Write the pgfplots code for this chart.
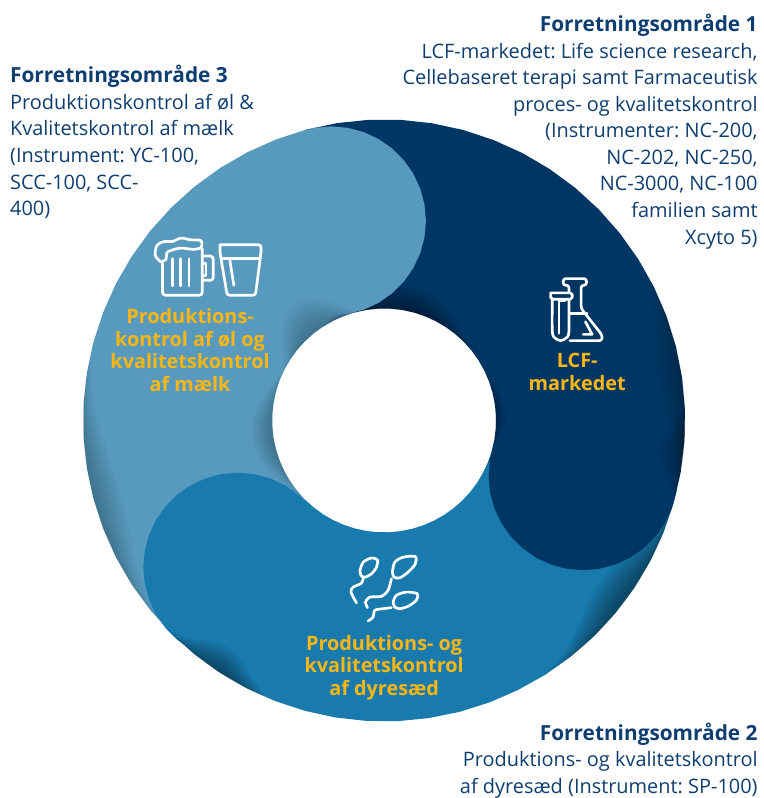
\documentclass[border=0pt]{standalone}
\usepackage{pgfplots}
\usepackage{pgfplotstable}
\pgfplotsset{compat=1.18}
\usepackage{fontspec}
\setmainfont{Open Sans}
\definecolor{navy}{RGB}{0,54,100}
\definecolor{midblue}{RGB}{24,122,173}
\definecolor{lightblue}{RGB}{88,154,190}
\definecolor{txt}{RGB}{14,62,112}
\definecolor{gold}{RGB}{250,182,20}
\tikzset{
  goldlbl/.style={text=gold,font=\fontsize{20}{23}\selectfont\bfseries\frenchspacing},
  bluelbl/.style={text=txt,font=\fontsize{20.1}{26.8}\selectfont\frenchspacing}}
\newcommand{\ttl}[1]{{\fontsize{21}{26.8}\selectfont\bfseries #1}}

% ring outline: u runs over the span, f=0 outer edge, f=1 inner edge
\pgfplotstableread[row sep=\\]{
u f\\ -1 0\\ -.9 0\\ -.8 0\\ -.7 0\\ -.6 0\\ -.5 0\\ -.4 0\\ -.3 0\\ -.2 0\\ -.1 0\\ 0 0\\ .1 0\\ .2 0\\ .3 0\\ .4 0\\ .5 0\\ .6 0\\ .7 0\\ .8 0\\ .9 0\\ 1 0\\
1 1\\ .9 1\\ .8 1\\ .7 1\\ .6 1\\ .5 1\\ .4 1\\ .3 1\\ .2 1\\ .1 1\\ 0 1\\ -.1 1\\ -.2 1\\ -.3 1\\ -.4 1\\ -.5 1\\ -.6 1\\ -.7 1\\ -.8 1\\ -.9 1\\ -1 1\\
}\ringtab
% soft crescent along a ring edge
\pgfplotstableread[row sep=\\]{
u f\\ -1 0\\ -.8 0\\ -.6 0\\ -.4 0\\ -.2 0\\ 0 0\\ .2 0\\ .4 0\\ .6 0\\ .8 0\\ 1 0\\
.9 .024\\ .8 .095\\ .7 .206\\ .6 .345\\ .5 .5\\ .4 .655\\ .3 .794\\ .2 .905\\ .1 .976\\ 0 1\\
-.1 .976\\ -.2 .905\\ -.3 .794\\ -.4 .655\\ -.5 .5\\ -.6 .345\\ -.7 .206\\ -.8 .095\\ -.9 .024\\
}\bumptab
\pgfplotstableread[row sep=\\]{
cx sy\\ 1 0\\ .9848 .1736\\ .9397 .342\\ .866 .5\\ .766 .6428\\ .6428 .766\\ .5 .866\\ .342 .9397\\ .1736 .9848\\
0 1\\ -.1736 .9848\\ -.342 .9397\\ -.5 .866\\ -.6428 .766\\ -.766 .6428\\ -.866 .5\\ -.9397 .342\\ -.9848 .1736\\
-1 0\\ -.9848 -.1736\\ -.9397 -.342\\ -.866 -.5\\ -.766 -.6428\\ -.6428 -.766\\ -.5 -.866\\ -.342 -.9397\\ -.1736 -.9848\\
0 -1\\ .1736 -.9848\\ .342 -.9397\\ .5 -.866\\ .6428 -.766\\ .766 -.6428\\ .866 -.5\\ .9397 -.342\\ .9848 -.1736\\
}\circtab

\newcommand{\ringpart}[3]{% centre angle, half span, colour
  \addplot[fill=#3,draw=none,data cs=polar,forget plot] table[x expr=#1+#2*\thisrow{u},y expr=302.5-190*\thisrow{f}]{\ringtab} --cycle;}
\newcommand{\capdisc}[3]{% x, y, colour
  \addplot[fill=#3,draw=none,forget plot] table[x expr=#1+95*\thisrow{cx},y expr=#2+95*\thisrow{sy}]{\circtab} --cycle;}
\newcommand{\shadelayer}[5]{%
  \addplot[fill=black,fill opacity=#5,draw=none,data cs=polar,forget plot] table[x expr=#1+#2*\thisrow{u},y expr=#3+#4*\thisrow{f}]{\bumptab} --cycle;}
\newcommand{\ringshade}[5]{% centre angle, half span, edge radius, signed width, layer opacity
  \shadelayer{#1}{#2}{#3}{(#4)}{#5}
  \shadelayer{#1}{#2*.96}{#3}{(#4)*.92}{#5}
  \shadelayer{#1}{#2*.92}{#3}{(#4)*.84}{#5}
  \shadelayer{#1}{#2*.88}{#3}{(#4)*.76}{#5}
  \shadelayer{#1}{#2*.84}{#3}{(#4)*.68}{#5}
  \shadelayer{#1}{#2*.80}{#3}{(#4)*.6}{#5}
  \shadelayer{#1}{#2*.76}{#3}{(#4)*.52}{#5}
  \shadelayer{#1}{#2*.72}{#3}{(#4)*.44}{#5}
  \shadelayer{#1}{#2*.68}{#3}{(#4)*.36}{#5}
  \shadelayer{#1}{#2*.64}{#3}{(#4)*.28}{#5}
  \shadelayer{#1}{#2*.60}{#3}{(#4)*.2}{#5}
  \shadelayer{#1}{#2*.56}{#3}{(#4)*.12}{#5}}
\newcommand{\lbl}[6]{% x px, y px, anchor, align, style, text
  \node[anchor=#3,inner sep=0pt,align=#4,#5] at (axis cs:{#1-386},{422.5-#2}) {#6};}

\begin{document}
\begin{tikzpicture}
\begin{axis}[scale only axis,width=767bp,height=798bp,xmin=-386,xmax=381,ymin=-375.5,ymax=422.5,
  hide axis,clip=false,
  icon/.style={draw=white,line width=2.7pt,line cap=round,line join=round,no markers,forget plot,
    x filter/.expression={x-386},y filter/.expression={422.5-y}}]

% keeps the page as large as the axis box
\path (axis cs:-386,-375.5) rectangle (axis cs:381,422.5);

\ringpart{44.5}{60.5}{navy}
\ringpart{-75.5}{59.5}{midblue}
\ringpart{165}{60}{lightblue}

% shadows lying under the rounded ends
\ringshade{80}{48}{112.5}{26}{.03}
\ringshade{0}{36}{112.5}{10}{.02}
\ringshade{-36}{24}{302.5}{-32}{.04}
\ringshade{195}{32}{302.5}{-28}{.018}
\ringshade{188}{40}{112.5}{22}{.02}

\capdisc{200}{-55.5}{navy}
\capdisc{-147}{-147.5}{midblue}
\capdisc{-53}{200.5}{lightblue}

% edge shading on top of the ends
\ringshade{8}{25}{302.5}{-25}{.012}
\ringshade{-6}{11}{302.5}{-25}{.02}
\ringshade{236}{13}{302.5}{-26}{.035}
\ringshade{128}{28}{112.5}{36}{.018}

% beer mug
\addplot[icon,smooth] coordinates {(161.7,263.3)(156,256.7)(157.7,246.7)(165,242.7)(173.3,242.7)(181.7,239.3)(191.7,241)(201.7,241.7)(202.3,248.3)(195,250.7)(181.7,249.3)(171.7,251.7)(167.7,254)(166.7,260.7)(161.7,263.3)};
\addplot[icon,rounded corners=3pt] coordinates {(163.3,265)(163.3,296.7)(203.3,296.7)(203.3,250)};
\addplot[icon,rounded corners=3pt] coordinates {(204.3,257.3)(214.3,257.3)(214.3,281.7)(204.3,281.7)};
\addplot[icon] coordinates {(203.7,265)(207,265)(207,276.7)(203.7,276.7)};
\addplot[icon] coordinates {(173.3,260)(173.3,287.3)};
\addplot[icon] coordinates {(181.7,260)(181.7,287.3)};
\addplot[icon] coordinates {(190,260)(190,287.3)};
% glass
\addplot[icon,rounded corners=2.5pt] coordinates {(221,246)(262.3,246)(262.3,253.3)(256.7,296.7)(228.3,296.7)(221,253.3)(221,246)};
\addplot[icon] coordinates {(222.7,260)(260.7,260)};
\addplot[icon] coordinates {(231,261.7)(235,286.7)};
% flask and test tube
\addplot[icon,rounded corners=2.5pt] coordinates {(571.7,293)(571.7,286.7)(566,286.7)(566,280)(589.3,280)(589.3,286.7)(584,286.7)(584,310)(605,336.7)(605,342.3)(572.7,342.3)};
\addplot[icon,rounded corners=2pt] coordinates {(553.3,294.3)(575,294.3)(575,300.7)(553.3,300.7)(553.3,294.3)};
\addplot[icon,smooth] coordinates {(555,300.7)(555,333)(557.5,339.5)(563.3,342.3)(569.2,339.5)(571.7,333)(571.7,300.7)};
\addplot[icon] coordinates {(567.7,301.7)(561.7,301.7)(561.7,335)};
\addplot[icon] coordinates {(572.7,315)(590,315)};
\addplot[icon] coordinates {(588.3,323.3)(595,336)(586,336)};
% three cells
\addplot[icon,smooth] coordinates {(361.7,573.3)(365,565)(373.3,560.7)(379.3,562.7)(378.3,570)(373.3,576.7)(366.7,580)(362.7,578.3)(361.7,573.3)};
\addplot[icon,smooth] coordinates {(365,580.7)(363.3,586)(355,590)(352.7,595)(358.3,606)};
\addplot[icon,smooth] coordinates {(394.3,575)(396.7,565)(405,560)(417.3,559.3)(417.3,566.7)(410,575)(401.7,580.7)(396,580)(394.3,575)};
\addplot[icon,smooth] coordinates {(393.3,581.7)(390,593.3)(383.3,599.3)(371.7,600)(367.3,605)(369.3,610.7)};
\addplot[icon,smooth] coordinates {(395,605)(398.3,598.3)(408.3,595)(419.3,596.7)(418.3,603.3)(410,609.3)(401.7,611.7)(396.7,610)(395,605)};
\addplot[icon,smooth] coordinates {(393.3,610.7)(385,611.7)(376.7,613.3)(375,620)(370,624)};

% ring labels
\lbl{191}{309.5}{north}{center}{goldlbl}{Produktions-\\kontrol af øl og\\kvalitetskontrol\\af mælk}
\lbl{580}{355}{north}{center}{goldlbl}{LCF-\\markedet}
\lbl{386}{638}{north}{center}{goldlbl}{Produktions- og\\kvalitetskontrol\\af dyresæd}

% outer texts
\lbl{761.5}{14}{north east}{right}{bluelbl}{\ttl{Forretningsområde 1}\\LCF-markedet: Life science research,\\Cellebaseret terapi samt Farmaceutisk\\proces- og kvalitetskontrol\\(Instrumenter: NC-200,\\NC-202, NC-250,\\NC-3000, NC-100\\familien samt\\Xcyto 5)}
\lbl{10}{65.5}{north west}{left}{bluelbl}{\ttl{Forretningsområde 3}\\Produktionskontrol af øl \&\\Kvalitetskontrol af mælk\\(Instrument: YC-100,\\SCC-100, SCC-\\400)}
\lbl{761.5}{726}{north east}{right}{bluelbl}{\ttl{Forretningsområde 2}\\Produktions- og kvalitetskontrol\\af dyresæd (Instrument: SP-100)}
\end{axis}
\end{tikzpicture}
\end{document}
